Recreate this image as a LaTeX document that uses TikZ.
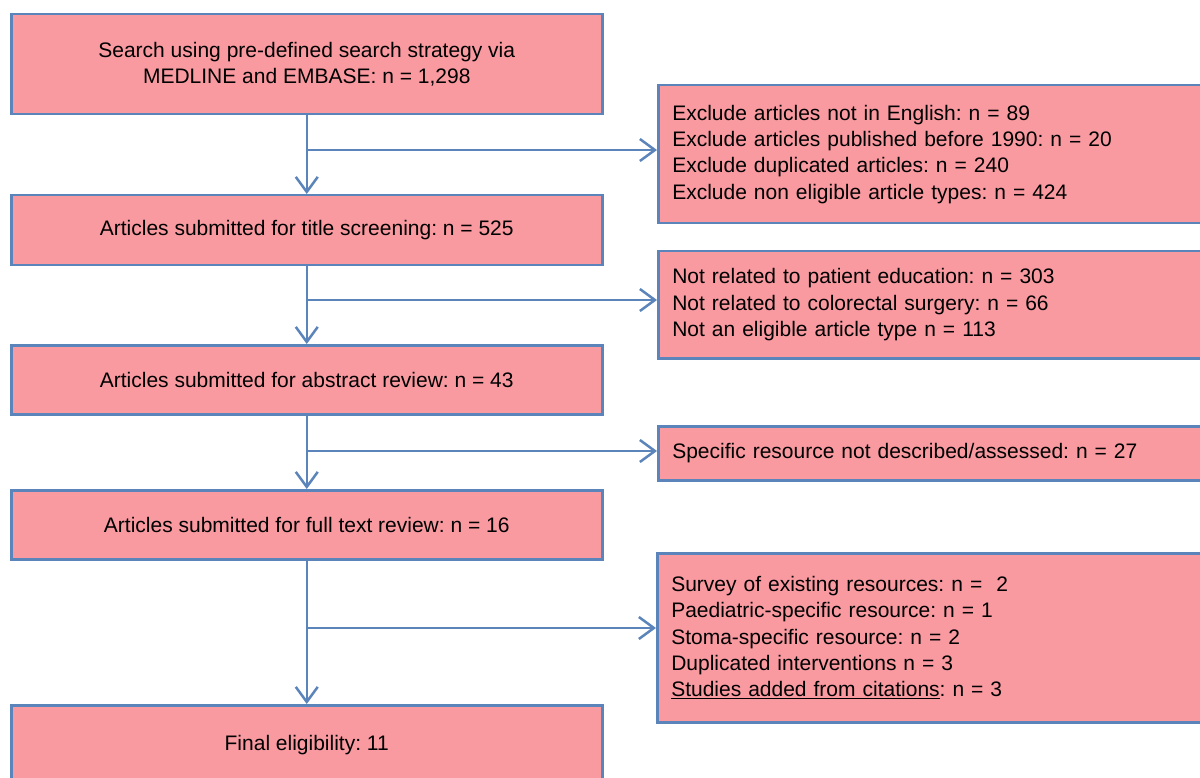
\documentclass[tikz,border=0pt]{standalone}
\usepackage{fontspec}
\setmainfont{Liberation Sans}
\frenchspacing
\usetikzlibrary{arrows.meta}
\definecolor{boxfill}{HTML}{F99AA1}
\definecolor{boxline}{HTML}{5B84BA}
\tikzset{
  leftbox/.style={draw=boxline, fill=boxfill, line width=2.5pt, anchor=north west,
    minimum width=591pt, align=center, inner sep=0pt, font=\fontsize{21}{25.5}\selectfont},
  rightbox/.style={draw=boxline, fill=boxfill, line width=2.5pt, anchor=north west,
    text width=520pt, inner xsep=14pt, inner ysep=0pt, align=left, font=\fontsize{21}{26.3}\selectfont},
  arr/.style={draw=boxline, line width=2.5pt, -{Straight Barb[length=15pt,width=22pt,line width=2.5pt]}}
}
\begin{document}
\begin{tikzpicture}[x=1pt,y=-1pt]
\useasboundingbox (0,0) rectangle (1200,778);
\clip (0,0) rectangle (1200,778);
\fill[white] (0,0) rectangle (1200,778);
\node[leftbox, minimum height=100pt] (b1) at (10,13) {Search using pre-defined search strategy via\\MEDLINE and EMBASE: n = 1,298};
\node[leftbox, minimum height=70pt] (b2) at (10,194) {Articles submitted for title screening: n = 525};
\node[leftbox, minimum height=69pt] (b3) at (10,344) {Articles submitted for abstract review: n = 43};
\node[leftbox, minimum height=69pt] (b4) at (10,489) {Articles submitted for full text review: n = 16};
\node[leftbox, minimum height=80pt] (b5) at (10,704) {Final eligibility: 11};
\node[rightbox, minimum height=138pt] (r1) at (657,84) {Exclude articles not in English: n = 89\\Exclude articles published before 1990: n = 20\\Exclude duplicated articles: n = 240\\Exclude non eligible article types: n = 424};
\node[rightbox, minimum height=107pt] (r2) at (657,250) {Not related to patient education: n = 303\\Not related to colorectal surgery: n = 66\\Not an eligible article type n = 113};
\node[rightbox, minimum height=54pt] (r3) at (657,425) {Specific resource not described/assessed: n = 27};
\node[rightbox, minimum height=169pt] (r4) at (656,552) {Survey of existing resources: n = \ 2\\Paediatric-specific resource: n = 1\\Stoma-specific resource: n = 2\\Duplicated interventions n = 3\\\underline{Studies added from citations}: n = 3};
\draw[arr] (b1.south) -- (b2.north);
\draw[arr] (b2.south) -- (b3.north);
\draw[arr] (b3.south) -- (b4.north);
\draw[arr] (b4.south) -- (b5.north);
\coordinate (j1) at (305.5,150);
\coordinate (j2) at (305.5,300);
\coordinate (j3) at (305.5,451);
\coordinate (j4) at (305.5,628);
\draw[arr] (j1) -- (r1.west |- j1);
\draw[arr] (j2) -- (r2.west |- j2);
\draw[arr] (j3) -- (r3.west |- j3);
\draw[arr] (j4) -- (r4.west |- j4);
\end{tikzpicture}
\end{document}
